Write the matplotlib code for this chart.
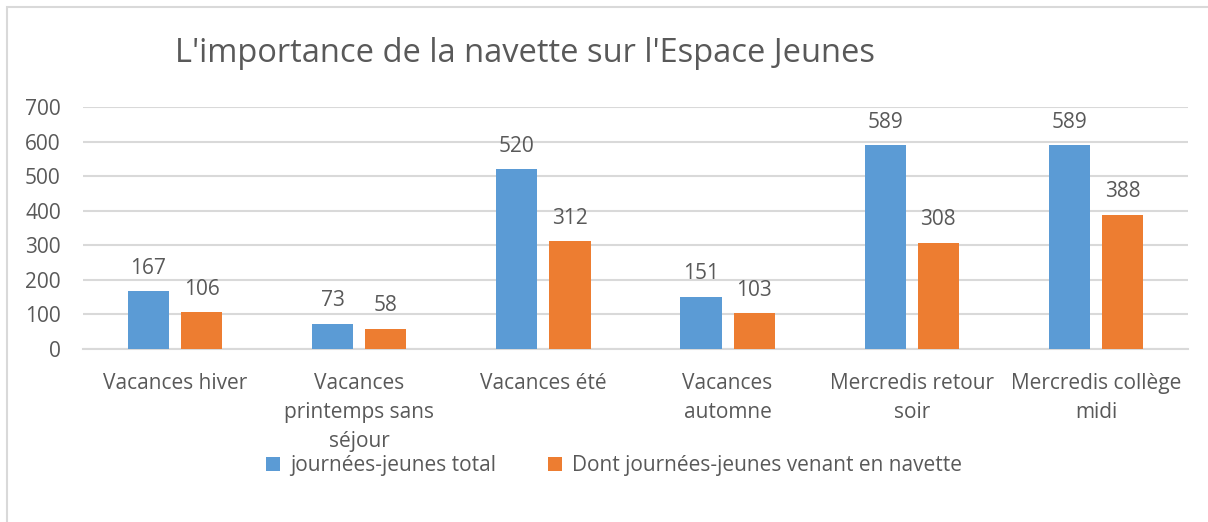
import matplotlib.pyplot as plt
import numpy as np
from matplotlib.patches import Rectangle

plt.rcParams['font.family'] = ['Open Sans', 'DejaVu Sans']

# Data
categories = ["Vacances hiver", "Vacances\nprintemps sans\nséjour", "Vacances été",
              "Vacances\nautomne", "Mercredis retour\nsoir", "Mercredis collège\nmidi"]
total = [167, 73, 520, 151, 589, 589]
navette = [106, 58, 312, 103, 308, 388]
series_names = ["journées-jeunes total", "Dont journées-jeunes venant en navette"]

blue = '#5B9BD5'
orange = '#ED7D31'
txt = '#595959'
grid = '#D9D9D9'

fig = plt.figure(figsize=(12.08, 5.22), dpi=100)
ax = fig.add_axes([83 / 1208, 1 - 349 / 522, 1105 / 1208, 242 / 522])

# chart frame (cut off on right and bottom)
fig.patches.append(Rectangle((7 / 1208, -0.1), 1.2, 1 - 7 / 522 + 0.1, transform=fig.transFigure,
                             fill=False, edgecolor=grid, linewidth=1.5))

x = np.arange(len(categories))
w = 0.224
gap = 0.065
b1 = ax.bar(x - (w + gap) / 2, total, w, color=blue, label=series_names[0], zorder=3)
b2 = ax.bar(x + (w + gap) / 2, navette, w, color=orange, label=series_names[1], zorder=3)

for bars, vals in ((b1, total), (b2, navette)):
    for r, v in zip(bars, vals):
        ax.annotate(str(v), (r.get_x() + r.get_width() / 2, v), xytext=(0, 9),
                    textcoords='offset points', ha='center', va='bottom',
                    fontsize=15, color=txt)

ax.set_xlim(-0.5, len(categories) - 0.5)
ax.set_ylim(0, 700)
ax.set_yticks(range(0, 701, 100))
ax.yaxis.grid(True, color=grid, linewidth=1.5, zorder=0)
ax.set_axisbelow(True)
for s in ['top', 'right', 'left']:
    ax.spines[s].set_visible(False)
ax.spines['bottom'].set_color(grid)
ax.spines['bottom'].set_linewidth(1.5)
ax.tick_params(axis='both', length=0, labelsize=15, labelcolor=txt)
ax.tick_params(axis='y', pad=16)
ax.tick_params(axis='x', pad=17.5)
ax.set_xticks(x)
ax.set_xticklabels(categories, linespacing=1.5)

fig.text(175 / 1208, 1 - 53 / 522, "L'importance de la navette sur l'Espace Jeunes",
         fontsize=23.5, color=txt, va='center', ha='left')

fig.legend(loc='center', bbox_to_anchor=(614 / 1208, 1 - 466 / 522), ncol=2, frameon=False,
           fontsize=15, labelcolor=txt, handlelength=0.65, handleheight=0.65,
           handletextpad=0.5, columnspacing=2.5)

fig.savefig('out.png', dpi=100)
